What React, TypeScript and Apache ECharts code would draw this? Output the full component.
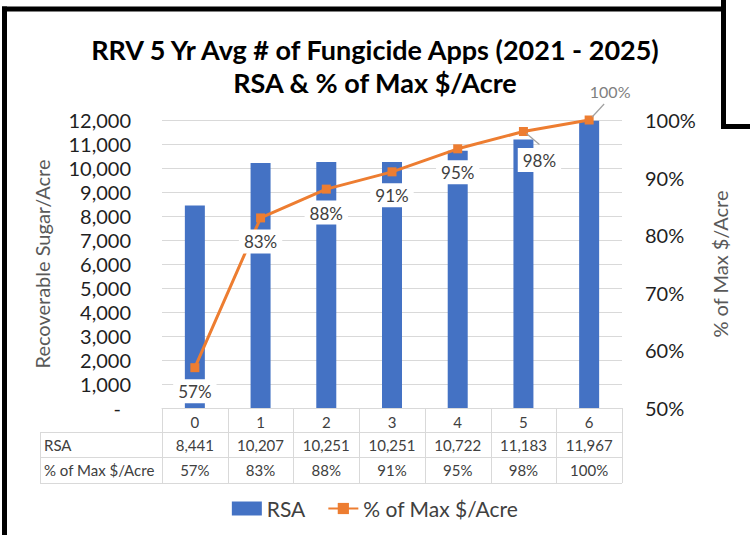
import React, { useEffect, useRef } from "react";
import * as echarts from "echarts";

const categories = ["0", "1", "2", "3", "4", "5", "6"];
const rsaValues = [8441, 10207, 10251, 10251, 10722, 11183, 11967];
const pctValues = [57, 83, 88, 91, 95, 98, 100];
const tableRowLabels = ["RSA", "% of Max $/Acre"];
const titleLines = ["RRV 5 Yr Avg # of Fungicide Apps (2021 - 2025)", "RSA & % of Max $/Acre"];
// points whose labels are displaced with a leader line: [index, direction (1 = down-right, -1 = up-right)]
const leaderPoints = [
  [5, 1],
  [6, -1],
];

const FONT = "Lato, 'Open Sans', sans-serif";
const W = 750;
const H = 535;
const GL = 162;
const GR = 622;
const GT = 120;
const GB = 408;
const TABLE_LEFT = 40;
const ROW_Y = [408, 432, 457, 483];
const GRID_COLOR = "#D9D9D9";
const TEXT_DARK = "#404040";
const LEADER = "#A0A0A0";

const fmtNum = (v: number) => v.toLocaleString("en-US");

export default function App() {
  const ref = useRef<HTMLDivElement>(null);
  useEffect(() => {
    document.body.style.margin = "0";
    if (!ref.current) return;
    const chart = echarts.init(ref.current, undefined, { renderer: "svg", width: W, height: H });
    const colW = (GR - GL) / categories.length;

    const graphics: any[] = [];
    // frame
    const frame = { stroke: "#000", lineWidth: 5 };
    graphics.push({ type: "line", shape: { x1: 4.5, y1: 6.5, x2: 4.5, y2: H }, style: frame });
    graphics.push({ type: "line", shape: { x1: 2, y1: 9, x2: 726, y2: 9 }, style: frame });
    graphics.push({ type: "line", shape: { x1: 723.5, y1: 0, x2: 723.5, y2: 129 }, style: frame });
    graphics.push({ type: "line", shape: { x1: 721, y1: 126.5, x2: W, y2: 126.5 }, style: frame });
    // table lines
    const tl = { stroke: GRID_COLOR, lineWidth: 1 };
    for (let r = 1; r < ROW_Y.length; r++) {
      graphics.push({ type: "line", shape: { x1: TABLE_LEFT, y1: ROW_Y[r] + 0.5, x2: GR, y2: ROW_Y[r] + 0.5 }, style: tl });
    }
    graphics.push({ type: "line", shape: { x1: TABLE_LEFT + 0.5, y1: ROW_Y[1], x2: TABLE_LEFT + 0.5, y2: ROW_Y[3] }, style: tl });
    for (let c = 0; c <= categories.length; c++) {
      const x = Math.round(GL + c * colW) + 0.5;
      graphics.push({ type: "line", shape: { x1: x, y1: ROW_Y[0], x2: x, y2: ROW_Y[3] }, style: tl });
    }
    // table texts
    const rows = [rsaValues.map(fmtNum), pctValues.map((v) => v + "%")];
    rows.forEach((vals, r) => {
      const cy = (ROW_Y[r + 1] + ROW_Y[r + 2]) / 2;
      graphics.push({
        type: "text",
        x: TABLE_LEFT + 4,
        y: cy,
        style: { text: tableRowLabels[r], fill: TEXT_DARK, font: `15px ${FONT}`, textAlign: "left", textVerticalAlign: "middle" },
      });
      vals.forEach((t, c) => {
        graphics.push({
          type: "text",
          x: GL + (c + 0.5) * colW,
          y: cy,
          style: { text: t, fill: TEXT_DARK, font: `15px ${FONT}`, textAlign: "center", textVerticalAlign: "middle" },
        });
      });
    });

    const baseLabel = {
      show: true,
      position: "bottom",
      distance: 7,
      fontSize: 17,
      fontFamily: FONT,
      color: TEXT_DARK,
      backgroundColor: "#fff",
      padding: [4, 5, 3, 5],
      formatter: "{c}%",
    };
    const lineData = pctValues.map((v, i) => {
      if (i === 5) {
        return { value: v, label: { ...baseLabel, offset: [16, 5] } };
      }
      if (i === 6) {
        return {
          value: v,
          label: { ...baseLabel, position: "top", offset: [21, -6], backgroundColor: "transparent", color: "#7F7F7F", fontSize: 16 },
        };
      }
      return { value: v, label: baseLabel };
    });

    const leaderData = leaderPoints.map(([i, dir]) => [i, pctValues[i], dir]);

    chart.setOption({
      animation: false,
      textStyle: { fontFamily: FONT },
      title: {
        text: titleLines.join("\n"),
        left: "center",
        top: 28,
        textStyle: { fontSize: 27, fontWeight: "bold", color: "#000", lineHeight: 33, fontFamily: FONT },
      },
      grid: { left: GL, right: W - GR, top: GT, bottom: H - GB, containLabel: false },
      legend: {
        bottom: 11,
        left: "center",
        itemWidth: 30,
        itemHeight: 14,
        itemGap: 22,
        textStyle: { fontSize: 21, color: TEXT_DARK, fontFamily: FONT },
        data: [
          { name: "RSA", icon: "rect" },
          { name: "% of Max $/Acre" },
        ],
      },
      xAxis: {
        type: "category",
        data: categories,
        axisLine: { show: true, lineStyle: { color: GRID_COLOR } },
        axisTick: { show: false },
        axisLabel: { margin: 6, fontSize: 15, color: TEXT_DARK, fontFamily: FONT },
      },
      yAxis: [
        {
          type: "value",
          min: 0,
          max: 12000,
          interval: 1000,
          name: "Recoverable Sugar/Acre",
          nameLocation: "middle",
          nameRotate: 90,
          nameGap: 110,
          nameTextStyle: { fontSize: 20, color: "#595959", fontFamily: FONT },
          axisLine: { show: false },
          axisTick: { show: false },
          axisLabel: {
            margin: 31,
            fontSize: 20,
            color: "#1F1F1F",
            fontFamily: FONT,
            formatter: (v: number) => (v === 0 ? "{d|-}" : fmtNum(v)),
            rich: { d: { padding: [0, 10, 0, 0], fontSize: 20, color: "#1F1F1F", fontFamily: FONT } },
          },
          splitLine: { show: true, lineStyle: { color: GRID_COLOR, width: 1 } },
        },
        {
          type: "value",
          min: 50,
          max: 100,
          interval: 10,
          name: "% of Max $/Acre",
          nameLocation: "middle",
          nameRotate: 90,
          nameGap: 88,
          nameTextStyle: { fontSize: 20, color: "#595959", fontFamily: FONT },
          axisLine: { show: false },
          axisTick: { show: false },
          axisLabel: { margin: 23, fontSize: 20, color: "#1F1F1F", fontFamily: FONT, formatter: "{value}%" },
          splitLine: { show: false },
        },
      ],
      series: [
        {
          name: "RSA",
          type: "bar",
          data: rsaValues,
          barWidth: 20,
          itemStyle: { color: "#4472C4" },
          z: 2,
        },
        {
          name: "% of Max $/Acre",
          type: "line",
          yAxisIndex: 1,
          data: lineData,
          symbol: "rect",
          symbolSize: 9,
          lineStyle: { color: "#ED7D31", width: 3 },
          itemStyle: { color: "#ED7D31" },
          z: 3,
        },
        {
          name: "leaders",
          type: "custom",
          yAxisIndex: 1,
          silent: true,
          z: 4,
          data: leaderData,
          renderItem: (_params: any, api: any) => {
            const p = api.coord([api.value(0), api.value(1)]);
            const dir = api.value(2);
            return dir > 0
              ? { type: "line", shape: { x1: p[0] + 3, y1: p[1] + 2, x2: p[0] + 16, y2: p[1] + 13 }, style: { stroke: LEADER, lineWidth: 1.2 } }
              : { type: "line", shape: { x1: p[0] + 3, y1: p[1] - 3, x2: p[0] + 15, y2: p[1] - 16 }, style: { stroke: LEADER, lineWidth: 1.2 } };
          },
        },
      ],
      graphic: graphics,
    });
    return () => chart.dispose();
  }, []);
  return <div ref={ref} style={{ width: W, height: H }} />;
}
